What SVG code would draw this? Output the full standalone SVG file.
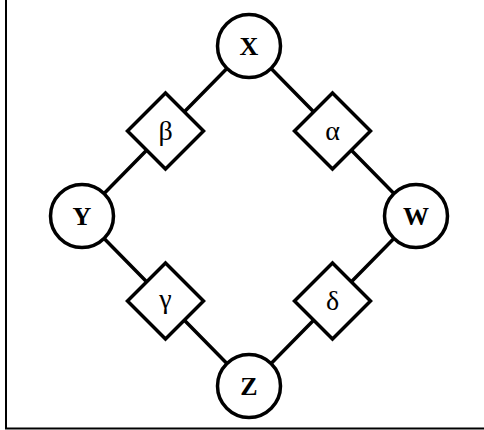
<svg xmlns="http://www.w3.org/2000/svg" width="484" height="430" viewBox="0 0 484 430">
<style>
.n{fill:#fff;stroke:#000;stroke-width:3.5}
.c{stroke:#000;stroke-width:3.5;fill:none}
.t{font-family:"Liberation Serif",serif;font-size:26px;font-weight:bold;text-anchor:middle}
.g{font-family:"Liberation Serif",serif;font-size:28px;text-anchor:middle}
.f{stroke:#000;stroke-width:2;fill:none}
</style>
<rect width="484" height="430" fill="#fff"/>
<path class="f" d="M6 0V428.5H484"/>
<g id="connectors">
<path class="c" d="M249 46L82 216L249 386L416 216Z"/>
</g>
<g id="X"><circle class="n" cx="249" cy="46" r="31.5"/><text class="t" x="249" y="55">X</text></g>
<g id="Y"><circle class="n" cx="82" cy="216" r="31.5"/><text class="t" x="82" y="225">Y</text></g>
<g id="W"><circle class="n" cx="416" cy="216" r="31.5"/><text class="t" x="416" y="225">W</text></g>
<g id="Z"><circle class="n" cx="249" cy="386" r="31.5"/><text class="t" x="249" y="395">Z</text></g>
<g id="beta"><path class="n" d="M165.5 93L203.5 131L165.5 169L127.5 131Z"/><text class="g" x="165.5" y="140">β</text></g>
<g id="alpha"><path class="n" d="M332.5 93L370.5 131L332.5 169L294.5 131Z"/><text class="g" x="332.5" y="140">α</text></g>
<g id="gamma"><path class="n" d="M165.5 263L203.5 301L165.5 339L127.5 301Z"/><text class="g" x="165.5" y="308">γ</text></g>
<g id="delta"><path class="n" d="M332.5 263L370.5 301L332.5 339L294.5 301Z"/><text class="g" x="332.5" y="310">δ</text></g>
</svg>
